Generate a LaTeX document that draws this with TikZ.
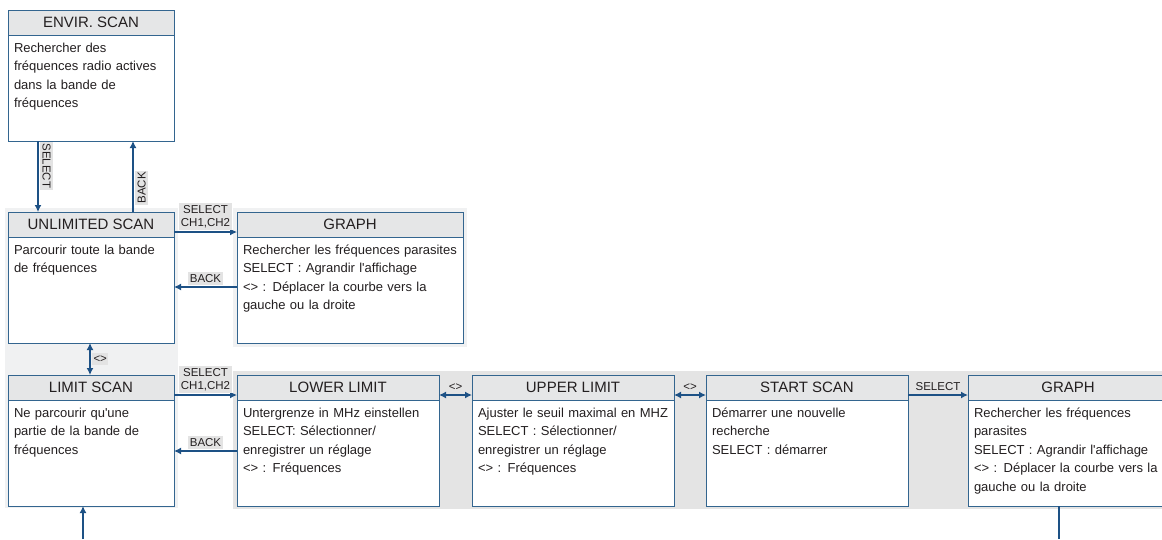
\documentclass[tikz,border=0pt]{standalone}
\usepackage{fontspec}
\setmainfont{Liberation Sans}
\usetikzlibrary{arrows.meta,positioning}
\definecolor{ScreenBlue}{HTML}{33658F}
\definecolor{LinkBlue}{HTML}{1D5185}
\definecolor{HeadGray}{HTML}{E5E6E7}
\definecolor{TagGray}{HTML}{E3E3E3}
\definecolor{PanelLight}{HTML}{F0F1F2}
\definecolor{PanelDark}{HTML}{E4E4E4}
\definecolor{InkGray}{HTML}{231F20}

\begin{document}
\begin{tikzpicture}[x=1pt,y=-1pt,
  head/.style={draw=ScreenBlue,fill=HeadGray,line width=1pt,outer sep=0pt,anchor=north west,minimum height=25pt,inner sep=0pt,text height=10.5pt,text depth=0pt,font=\fontsize{15}{16}\selectfont,text=InkGray},
  body/.style={draw=ScreenBlue,fill=white,line width=1pt,outer sep=0pt,inner xsep=6pt,inner ysep=6pt,align=left,text height=11pt,text depth=83pt,font=\fontsize{13}{18.5}\selectfont,text=InkGray},
  link/.style={LinkBlue,line width=1.8pt,-{Latex[length=7pt,width=7pt]}},
  both/.style={LinkBlue,line width=1.8pt,{Latex[length=7pt,width=7pt]}-{Latex[length=7pt,width=7pt]}},
  tag/.style={fill=TagGray,inner xsep=1.5pt,inner ysep=2.5pt,outer sep=2pt,font=\fontsize{11.5}{13}\selectfont,align=center,text=InkGray}]
  \useasboundingbox (0,0) rectangle (1162,539);
  \fill[PanelLight] (5,208) rectangle (178,508);
  \fill[PanelLight] (233,208) rectangle (467,347);
  \fill[PanelDark] (233,371) rectangle (1162,509);

  \node[head,minimum width=166pt] (envh) at (8,10) {ENVIR. SCAN};
  \node[body,text width=154pt,below=0pt of envh] (env) {Rechercher des\\fréquences radio actives\\dans la bande de\\fréquences};
  \node[head,minimum width=166pt] (unlh) at (8,212) {UNLIMITED SCAN};
  \node[body,text width=154pt,below=0pt of unlh] (unl) {Parcourir toute la bande\\de fréquences};
  \node[head,minimum width=226pt] (grah) at (237,212) {GRAPH};
  \node[body,text width=214pt,below=0pt of grah] (gra) {Rechercher les fréquences parasites\\SELECT : Agrandir l\textquotesingle affichage\\<> : Déplacer la courbe vers la\\gauche ou la droite};
  \node[head,minimum width=166pt] (limh) at (8,375) {LIMIT SCAN};
  \node[body,text width=154pt,below=0pt of limh] (lim) {Ne parcourir qu\textquotesingle une\\partie de la bande de\\fréquences};
  \node[head,minimum width=202pt] (lowh) at (237,375) {LOWER LIMIT};
  \node[body,text width=190pt,below=0pt of lowh] (low) {Untergrenze in MHz einstellen\\SELECT: Sélectionner/\\enregistrer un réglage\\<> : Fréquences};
  \node[head,minimum width=202pt] (upph) at (472,375) {UPPER LIMIT};
  \node[body,text width=190pt,below=0pt of upph] (upp) {Ajuster le seuil maximal en MHZ\\SELECT : Sélectionner/\\enregistrer un réglage\\<> : Fréquences};
  \node[head,minimum width=202pt] (stah) at (706,375) {START SCAN};
  \node[body,text width=190pt,below=0pt of stah] (sta) {Démarrer une nouvelle\\recherche\\SELECT : démarrer};
  \node[head,minimum width=200pt] (grbh) at (968,375) {GRAPH};
  \node[body,text width=188pt,below=0pt of grbh] (grb) {Rechercher les fréquences\\parasites\\SELECT : Agrandir l\textquotesingle affichage\\<> : Déplacer la courbe vers la\\gauche ou la droite};

  \draw[link] ([xshift=30pt]env.south west) -- node[tag,rotate=-90,anchor=south,pos=0.35] (selA) {SELECT} ([xshift=30pt]unlh.north west);
  \draw[link] ([xshift=125pt]unlh.north west) -- node[tag,rotate=90,anchor=north,pos=0.34] (backA) {BACK} ([xshift=125pt]env.south west);
  \draw[link] ([yshift=5pt]unlh.south east) -- node[tag,above] (selB) {SELECT\\CH1,CH2} ([yshift=5pt]grah.south west);
  \draw[link] ([yshift=-50pt]gra.north west) -- node[tag,above] (backB) {BACK} ([yshift=-50pt]unl.north east);
  \draw[both] ([xshift=82pt]unl.south west) -- node[tag,right] (swA) {<>} ([xshift=82pt]limh.north west);
  \draw[link] ([yshift=5pt]limh.south east) -- node[tag,above] (selC) {SELECT\\CH1,CH2} ([yshift=5pt]lowh.south west);
  \draw[link] ([yshift=-51pt]low.north west) -- node[tag,above] (backC) {BACK} ([yshift=-51pt]lim.north east);
  \draw[both] ([yshift=5pt]lowh.south east) -- node[tag,above,fill=none] (swB) {<>} ([yshift=5pt]upph.south west);
  \draw[both] ([yshift=5pt]upph.south east) -- node[tag,above,fill=none] (swC) {<>} ([yshift=5pt]stah.south west);
  \draw[link] ([yshift=5pt]stah.south east) -- node[tag,above,fill=none] (selD) {SELECT} ([yshift=5pt]grbh.south west);

  \coordinate (limfeed) at (83,539); \coordinate (grbout) at (1059,539);
  \draw[link] (limfeed) -- (limfeed |- lim.south);
  \draw[LinkBlue,line width=1.8pt] (grbout |- grb.south) -- (grbout);
\end{tikzpicture}
\end{document}
